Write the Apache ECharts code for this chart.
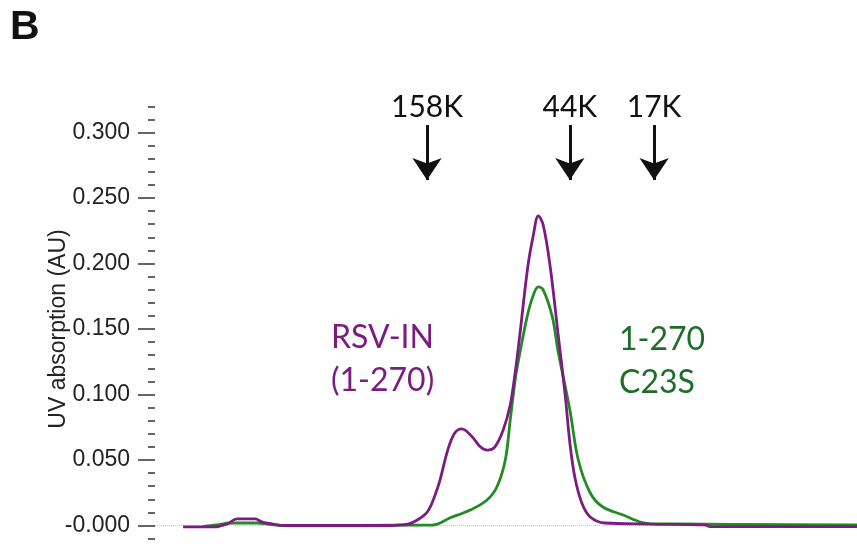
<!DOCTYPE html>
<html>
<head>
<meta charset="utf-8">
<script src="https://cdn.jsdelivr.net/npm/echarts@6/dist/echarts.min.js"></script>
<style>html,body{margin:0;padding:0;background:#fff}#c{width:857px;height:551px}</style>
</head>
<body>
<div id="c"></div>
<script>
// Elution position (arbitrary volume units) and UV absorption (AU)
var purpleX = [4.0, 8.6, 9.5, 10.3, 11.7, 14.3, 15.2, 16.8, 18.5, 33.5, 34.9, 36.3, 37.3, 38.5, 39.2, 39.9, 40.6, 41.7, 42.7, 43.7, 45.2, 46.3, 47.3, 48.4, 49.6, 50.6, 51.3, 52.0, 53.1, 53.9, 54.6, 55.3, 56.3, 57.4, 58.4, 59.1, 59.8, 60.8, 62.0, 64.1, 70.5, 78.3, 79.1, 100];
var purpleY = [-0.0011, -0.0011, 0, 0.0011, 0.005, 0.005, 0.0027, 0.0011, 0, 0, 0.0004, 0.0015, 0.004, 0.0085, 0.0141, 0.0233, 0.0347, 0.0576, 0.0706, 0.0737, 0.0676, 0.0603, 0.0576, 0.0599, 0.0729, 0.092, 0.1164, 0.1469, 0.1973, 0.2218, 0.2363, 0.2294, 0.1973, 0.1469, 0.1011, 0.063, 0.037, 0.0172, 0.0065, 0.0019, 0.0011, 0.0004, -0.0008, -0.0008];
var greenX = [6.8, 8.8, 10.7, 14.5, 16.0, 17.8, 39.6, 42.0, 44.9, 47.3, 48.7, 49.9, 50.6, 51.3, 51.6, 53.0, 53.9, 54.6, 55.3, 56.6, 57.4, 59.1, 60.3, 62.0, 63.8, 66.7, 69.1, 70.5, 100];
var greenY = [-0.0008, 0.0004, 0.0019, 0.0019, 0.0011, 0, 0.0004, 0.0057, 0.0118, 0.0195, 0.0294, 0.05, 0.0805, 0.1111, 0.121, 0.1592, 0.176, 0.1821, 0.1798, 0.1592, 0.1336, 0.0882, 0.05, 0.0248, 0.0141, 0.008, 0.0027, 0.0015, 0.0004];
// Molecular weight standards
var markerNames = ['158K', '44K', '17K'];
var markerX = [38.75, 59.1, 71.1];
var arrowTop = 0.3057, arrowBottom = 0.2637;
// Y tick labels
var yTickValues = [0, 0.05, 0.1, 0.15, 0.2, 0.25, 0.3];
var yTickLabels = ['-0.000', '0.050', '0.100', '0.150', '0.200', '0.250', '0.300'];

var PURPLE = '#7b1c80', GREEN = '#248a24';
var narrow = '"Liberation Sans Narrow", "Arial Narrow", "Liberation Sans", Arial, sans-serif';
var calib = 'Lato, "Open Sans", sans-serif';

function zip(xs, ys) { return xs.map(function (x, i) { return [x, ys[i]]; }); }

var markLineData = markerNames.map(function (n, i) {
  return [{ name: n, coord: [markerX[i], arrowTop] }, { coord: [markerX[i], arrowBottom] }];
});

var chart = echarts.init(document.getElementById('c'), null, { renderer: 'canvas' });
chart.setOption({
  animation: false,
  backgroundColor: '#fff',
  grid: [
    { left: 155, right: 0, top: 106.3, bottom: 12.4 },
    { left: 155, right: 0, top: 132.5, bottom: 25.5 }
  ],
  xAxis: [
    { gridIndex: 0, type: 'value', min: 0, max: 100, show: false },
    { gridIndex: 1, type: 'value', min: 0, max: 100, show: false }
  ],
  yAxis: [
    { gridIndex: 0, type: 'value', min: -0.01, max: 0.32, interval: 0.01,
      axisLine: { show: false }, splitLine: { show: false },
      axisTick: { show: true, length: 7, lineStyle: { color: '#333', width: 1.5 } },
      axisLabel: { show: false } },
    { gridIndex: 1, type: 'value', min: 0, max: 0.3, interval: 0.05,
      axisLine: { show: false }, splitLine: { show: false },
      axisTick: { show: true, length: 17, lineStyle: { color: '#333', width: 1.5 } },
      axisLabel: { margin: 25, fontFamily: narrow, fontSize: 23, color: '#222',
        formatter: function (v) {
          for (var i = 0; i < yTickValues.length; i++) if (Math.abs(yTickValues[i] - v) < 1e-9) return yTickLabels[i];
          return '';
        } },
      name: 'UV absorption (AU)', nameLocation: 'middle', nameGap: 85, nameRotate: 90,
      nameMoveOverlap: false,
      nameTextStyle: { fontFamily: narrow, fontSize: 23, color: '#222' } }
  ],
  series: [
    { type: 'line', name: '1-270 C23S', xAxisIndex: 0, yAxisIndex: 0, data: zip(greenX, greenY),
      smooth: 0.35, showSymbol: false, z: 2,
      lineStyle: { color: GREEN, width: 2.8 },
      markLine: { silent: true, symbol: 'none', z: 1,
        lineStyle: { color: '#c8c8c8', width: 1, type: 'dotted' },
        label: { show: false },
        data: [{ yAxis: 0 }] } },
    { type: 'line', name: 'RSV-IN (1-270)', xAxisIndex: 0, yAxisIndex: 0, data: zip(purpleX, purpleY),
      smooth: 0.35, showSymbol: false, z: 3,
      lineStyle: { color: PURPLE, width: 2.8 },
      markLine: { silent: true, symbol: ['none', 'arrow'], symbolSize: [22, 22],
        lineStyle: { color: '#111', width: 3, type: 'solid' },
        label: { show: true, position: 'start', distance: 3, formatter: '{b}',
          fontFamily: calib, fontSize: 30, color: '#111' },
        data: markLineData } }
  ],
  graphic: [
    { type: 'text', left: 10, top: 7, style: { text: 'B', font: 'bold 41px "Liberation Sans", Arial, sans-serif', fill: '#111' } },
    { type: 'text', left: 331, top: 316, style: { text: 'RSV-IN\n(1-270)', font: '32px ' + calib, lineHeight: 43, fill: PURPLE } },
    { type: 'text', left: 619, top: 318, style: { text: '1-270\nC23S', font: '32px ' + calib, lineHeight: 43, fill: '#1f6e28' } }
  ]
});
</script>
</body>
</html>
